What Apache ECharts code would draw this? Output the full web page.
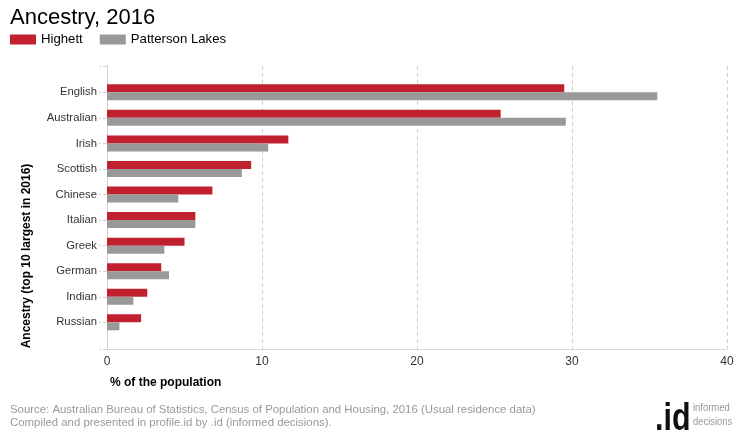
<!DOCTYPE html>
<html>
<head>
<meta charset="utf-8">
<script src="https://cdn.jsdelivr.net/npm/echarts@6/dist/echarts.min.js"></script>
<style>
html,body{margin:0;padding:0;background:#fff;}
#chart{width:740px;height:440px;}
</style>
</head>
<body>
<div id="chart"></div>
<script>
const categories = ['English','Australian','Irish','Scottish','Chinese','Italian','Greek','German','Indian','Russian'];
const highett = [29.5, 25.4, 11.7, 9.3, 6.8, 5.7, 5.0, 3.5, 2.6, 2.2];
const pattersonLakes = [35.5, 29.6, 10.4, 8.7, 4.6, 5.7, 3.7, 4.0, 1.7, 0.8];
const seriesNames = ['Highett', 'Patterson Lakes'];
const xMin = 0, xMax = 40, xInterval = 10;

const FONT = '"Liberation Sans", Arial, sans-serif';
const chart = echarts.init(document.getElementById('chart'), null, {renderer: 'canvas'});

chart.setOption({
  animation: false,
  textStyle: {fontFamily: FONT},
  title: {
    text: 'Ancestry, 2016',
    left: 5, top: 7, padding: [0, 5],
    textStyle: {fontFamily: FONT, fontSize: 22, fontWeight: 'normal', color: '#000'}
  },
  legend: {
    left: 10, top: 33, padding: 0,
    itemWidth: 26, itemHeight: 10, itemGap: 17,
    icon: 'rect',
    textStyle: {fontFamily: FONT, fontSize: 13.2, color: '#000'},
    data: seriesNames
  },
  grid: [
    {left: 107, right: 13, top: 66, bottom: 91},
    {left: 107, right: 13, top: 79.5, height: 255.6}
  ],
  xAxis: [
    {
      gridIndex: 0, type: 'value', min: xMin, max: xMax, interval: xInterval,
      name: '% of the population', nameLocation: 'start', nameGap: -3,
      nameTextStyle: {fontFamily: FONT, fontSize: 12, fontWeight: 'bold', color: '#000', align: 'left', verticalAlign: 'top', padding: [28, 0, 0, 0]},
      axisLine: {show: true, lineStyle: {color: '#d8d8d8'}},
      axisTick: {show: false},
      axisLabel: {fontFamily: FONT, fontSize: 12, color: '#333', margin: 7},
      splitLine: {show: true, lineStyle: {color: '#d0d0d0', type: [4, 3], width: 1}}
    },
    {
      gridIndex: 1, type: 'value', min: xMin, max: xMax, interval: xInterval,
      axisLine: {show: false}, axisTick: {show: false}, axisLabel: {show: false}, splitLine: {show: false}
    }
  ],
  yAxis: [
    {
      gridIndex: 0, type: 'value', min: 0, max: 1, interval: 1,
      name: 'Ancestry (top 10 largest in 2016)', nameLocation: 'middle', nameGap: 74, nameRotate: 90,
      nameTextStyle: {fontFamily: FONT, fontSize: 12, fontWeight: 'bold', color: '#000', padding: [0, 97, 0, 0]},
      axisLine: {show: true, lineStyle: {color: '#d0d0d0'}},
      axisTick: {show: true, length: 8, lineStyle: {color: '#d0d0d0', type: 'dashed'}},
      axisLabel: {show: false},
      splitLine: {show: false}
    },
    {
      gridIndex: 1, type: 'category', data: categories, inverse: true,
      axisLine: {show: false},
      axisTick: {show: true, alignWithLabel: true, length: 8, lineStyle: {color: '#d0d0d0', type: 'dashed'}},
      axisLabel: {fontFamily: FONT, fontSize: 11.3, color: '#333', margin: 10},
      splitLine: {show: false}
    }
  ],
  series: [
    {
      name: seriesNames[0], type: 'bar', xAxisIndex: 1, yAxisIndex: 1,
      data: highett, barWidth: 8, barGap: '0%',
      itemStyle: {color: '#c1202f'}
    },
    {
      name: seriesNames[1], type: 'bar', xAxisIndex: 1, yAxisIndex: 1,
      data: pattersonLakes, barWidth: 8, barGap: '0%',
      itemStyle: {color: '#999999'}
    }
  ],
  graphic: [
    {type: 'text', left: 10, top: 403, style: {text: 'Source: Australian Bureau of Statistics, Census of Population and Housing, 2016 (Usual residence data)\nCompiled and presented in profile.id by .id (informed decisions).', fill: '#999', font: '11.4px ' + FONT, lineHeight: 13}},
    {type: 'text', x: 655, y: 401, scaleX: 0.8, style: {text: '.id', fill: '#111', font: 'bold 38px ' + FONT}},
    {type: 'text', x: 693, y: 401, scaleX: 0.82, style: {text: 'informed\ndecisions', fill: '#999', font: '11.5px ' + FONT, lineHeight: 14}}
  ]
});
</script>
</body>
</html>
